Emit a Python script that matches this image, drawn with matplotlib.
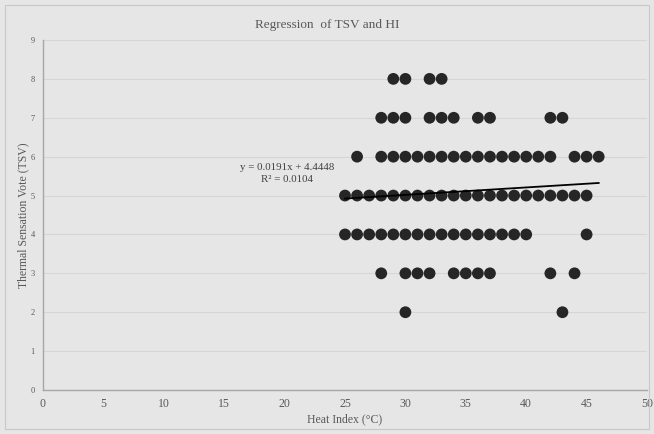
import numpy as np
import matplotlib.pyplot as plt
from matplotlib.patches import Rectangle

# Heat Index (°C) values observed at each Thermal Sensation Vote level
hi_tsv8 = [29, 30, 32, 33]
hi_tsv7 = [28, 29, 30, 32, 33, 34, 36, 37, 42, 43]
hi_tsv6 = [26, 28, 29, 30, 31, 32, 33, 34, 35, 36, 37, 38, 39, 40, 41, 42, 44, 45, 46]
hi_tsv5 = [25, 26, 27, 28, 29, 30, 31, 32, 33, 34, 35, 36, 37, 38, 39, 40, 41, 42, 43, 44, 45]
hi_tsv4 = [25, 26, 27, 28, 29, 30, 31, 32, 33, 34, 35, 36, 37, 38, 39, 40, 45]
hi_tsv3 = [28, 30, 31, 32, 34, 35, 36, 37, 42, 44]
hi_tsv2 = [30, 43]

tsv_levels = [8, 7, 6, 5, 4, 3, 2]
hi_rows = [hi_tsv8, hi_tsv7, hi_tsv6, hi_tsv5, hi_tsv4, hi_tsv3, hi_tsv2]

# linear trendline as reported on the chart
slope = 0.0191
intercept = 4.4448
r_squared = 0.0104
trend_x = [25, 46]

x_ticks = list(range(0, 51, 5))
y_ticks = list(range(0, 10))

hi = np.concatenate([np.array(r, dtype=float) for r in hi_rows])
tsv = np.concatenate([np.full(len(r), lvl, dtype=float) for r, lvl in zip(hi_rows, tsv_levels)])

bg = '#e6e6e6'
txt = '#595959'
serif = ['Liberation Serif', 'DejaVu Serif']

fig = plt.figure(figsize=(6.54, 4.34), dpi=100, facecolor=bg)
fig.patches.append(Rectangle((5 / 654, 5 / 434), 644 / 654, 424 / 434, transform=fig.transFigure,
                             fill=False, edgecolor='#c8c8c8', linewidth=0.8))
ax = fig.add_axes([43 / 654, 44 / 434, 604 / 654, 350 / 434])
ax.set_facecolor(bg)

ax.scatter(hi, tsv, s=72, color='#262626', edgecolors='none', zorder=3)
tx = np.array(trend_x, dtype=float)
ax.plot(tx, slope * tx + intercept, color='black', linewidth=1.3, zorder=4)

ax.text(20.2, 5.57, f'y = {slope}x + {intercept}\nR² = {r_squared}', ha='center', va='center',
        fontsize=7.8, color='#404040', family=serif, linespacing=1.45)

ax.set_xlim(0, 50)
ax.set_ylim(0, 9)
ax.set_xticks(x_ticks)
ax.set_yticks(y_ticks)
ax.set_xticklabels([str(v) for v in x_ticks], fontsize=8.5, color=txt, family=serif)
ax.set_yticklabels([str(v) for v in y_ticks], fontsize=6, color=txt, family=serif)
ax.tick_params(axis='both', length=0)
ax.tick_params(axis='x', pad=6)
ax.tick_params(axis='y', pad=6)
ax.grid(axis='y', color='#d6d6d6', linewidth=0.8)
ax.set_axisbelow(True)
for side in ['top', 'right']:
    ax.spines[side].set_visible(False)
for side in ['left', 'bottom']:
    ax.spines[side].set_color('#a6a6a6')
    ax.spines[side].set_linewidth(1.0)

ax.set_xlabel('Heat Index (°C)', fontsize=8.5, color=txt, family=serif, labelpad=2)
fig.text(23 / 654, 1 - 215 / 434, 'Thermal Sensation Vote (TSV)', rotation=90, ha='center', va='center',
         fontsize=8.5, color=txt, family=serif)
fig.text(0.5, 1 - 25 / 434, 'Regression  of TSV and HI', ha='center', va='center',
         fontsize=9.5, color=txt, family=serif)

fig.savefig('out.png', dpi=100, facecolor=bg)
